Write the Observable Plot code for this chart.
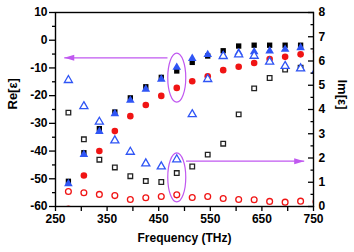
<!DOCTYPE html>
<html>
<head>
<meta charset="utf-8">
<script src="https://cdn.jsdelivr.net/npm/d3@7"></script>
<script src="https://cdn.jsdelivr.net/npm/@observablehq/plot@0.6"></script>
<style>
  html, body { margin: 0; padding: 0; background: white; }
</style>
</head>
<body>
<div id="chart"></div>
<script>
// ---- data ----
const freq        = [275, 305, 335, 365, 395, 425, 455, 485, 515, 545, 575, 605, 635, 665, 695, 725, 755];
// Re[eps] (left axis), filled markers
const reSquare    = [-50.9, -40.6, -31.9, -25.9, -20.8, -16.8, -13.4, -11.1, -8.0, -5.7, -3.8, -2.1, -1.8, -1.8, -1.8, -1.8, null];
const reTriangle  = [-51.8, -41.2, -32.9, -26.5, -21.7, -17.7, -14.1, -9.8, -6.6, -5.2, -5.5, -4.5, -4.2, -3.9, -3.3, -2.7, null];
const reCircle    = [-60.8, -48.8, -40.0, -32.8, -27.4, -23.4, -20.1, -17.2, -14.8, -13.0, -10.8, -9.6, -8.2, -6.8, -6.0, -5.1, -4.2];
// Im[eps] (right axis), hollow markers
const imSquare    = [3.87, 2.77, 1.93, 1.61, 1.25, 1.05, 1.01, 1.38, 1.65, 2.14, 2.59, 3.80, 4.87, 5.30, 5.65, 5.72, null];
const imTriangle  = [5.21, 4.13, 3.49, 2.72, 2.25, 1.77, 1.65, 1.94, 3.80, 5.25, 6.20, 6.27, 6.21, 5.97, 5.79, 5.69, 5.60];
const imCircle    = [0.62, 0.57, 0.50, 0.45, 0.29, 0.36, 0.41, 0.48, 0.37, 0.41, 0.33, 0.29, 0.28, 0.21, 0.18, 0.22, 0.20];

// axis ticks
const xTicks      = [250, 350, 450, 550, 650, 750];
const xMinorTicks = [300, 400, 500, 600, 700];
const reTicks     = [-60, -50, -40, -30, -20, -10, 0, 10];
const reMinor     = [-55, -45, -35, -25, -15, -5, 5];
const imTicks     = [0, 1, 2, 3, 4, 5, 6, 7, 8];
const imMinor     = [0.5, 1.5, 2.5, 3.5, 4.5, 5.5, 6.5, 7.5];

// annotations (data units)
const ellipseX    = [485, 485];
const ellipseRe   = [-13.5, -49.5];
const arrowLeft   = {x1: 467, x2: 267, re: -6.35};   // points to Re axis
const arrowRight  = {x1: 503, x2: 732, im: 1.87};    // points to Im axis

// ---- mapping of the Im axis [0,8] onto the Re axis [-60,10] ----
const reMin = -60, reMax = 10, imMax = 8;
const imToRe = v => (v == null ? null : reMin + v * (reMax - reMin) / imMax);
const reToIm = r => (r - reMin) * imMax / (reMax - reMin);

const rows = freq.map((f, i) => ({
  f,
  reSq: reSquare[i], reTri: reTriangle[i], reCirc: reCircle[i],
  imSq: imToRe(imSquare[i]), imTri: imToRe(imTriangle[i]), imCirc: imToRe(imCircle[i])
}));

const BLUE = "#2f55f5", RED = "#f01414", VIOLET = "#c058f0";

// custom symbols
const ellipseSymbol = {
  draw(ctx) {
    const rx = 9, ry = 24.5, k = 0.5523;
    ctx.moveTo(rx, 0);
    ctx.bezierCurveTo(rx, ry * k, rx * k, ry, 0, ry);
    ctx.bezierCurveTo(-rx * k, ry, -rx, ry * k, -rx, 0);
    ctx.bezierCurveTo(-rx, -ry * k, -rx * k, -ry, 0, -ry);
    ctx.bezierCurveTo(rx * k, -ry, rx, -ry * k, rx, 0);
    ctx.closePath();
  }
};
const headLeft = {draw(ctx) { ctx.moveTo(0, 0); ctx.lineTo(10, -3); ctx.lineTo(10, 3); ctx.closePath(); }};
const headRight = {draw(ctx) { ctx.moveTo(0, 0); ctx.lineTo(-10, -3); ctx.lineTo(-10, 3); ctx.closePath(); }};

const chart = Plot.plot({
  width: 354,
  height: 252,
  marginLeft: 55,
  marginRight: 41,
  marginTop: 12,
  marginBottom: 46,
  x: {domain: [250, 750], label: null},
  y: {domain: [reMin, reMax], label: null},
  style: {
    fontFamily: "'Liberation Sans', Arial, sans-serif",
    fontWeight: "bold",
    fontSize: "12px",
    background: "white",
    color: "black",
    overflow: "visible"
  },
  marks: [
    // annotations behind the points
    Plot.link([arrowLeft], {x1: "x1", x2: "x2", y1: "re", y2: "re", stroke: VIOLET, strokeWidth: 1.3}),
    Plot.dot([arrowLeft], {x: "x2", y: "re", symbol: headLeft, fill: VIOLET, stroke: "none"}),
    Plot.link([arrowRight], {x1: "x1", x2: "x2", y1: d => imToRe(d.im), y2: d => imToRe(d.im), stroke: VIOLET, strokeWidth: 1.3}),
    Plot.dot([arrowRight], {x: "x2", y: d => imToRe(d.im), symbol: headRight, fill: VIOLET, stroke: "none"}),
    Plot.dot(ellipseX, {x: d => d, y: (d, i) => ellipseRe[i], symbol: ellipseSymbol, fill: "none", stroke: VIOLET, strokeWidth: 1.2}),

    // Re[eps] filled markers
    Plot.dot(rows, {x: "f", y: "reCirc", r: 3.3, fill: RED, stroke: "none", clip: true}),
    Plot.dot(rows, {x: "f", y: "reSq", symbol: "square", r: 3.0, fill: "black", stroke: "none", clip: true}),
    Plot.dot(rows, {x: "f", y: "reTri", symbol: "triangle", r: 3.2, fill: BLUE, stroke: "none", clip: true}),
    // Im[eps] hollow markers
    Plot.dot(rows, {x: "f", y: "imSq", symbol: "square", r: 2.6, fill: "white", stroke: "#222", strokeWidth: 1.3, clip: true}),
    Plot.dot(rows, {x: "f", y: "imTri", symbol: "triangle", r: 3.0, fill: "white", stroke: BLUE, strokeWidth: 1.3, clip: true}),
    Plot.dot(rows, {x: "f", y: "imCirc", r: 2.9, fill: "white", stroke: RED, strokeWidth: 1.3, clip: true}),

    // axes
    Plot.axisY(reTicks, {anchor: "left", tickSize: 6, tickPadding: 2, strokeWidth: 1.3, tickFormat: d => String(d), label: null}),
    Plot.axisY(reMinor, {anchor: "left", tickSize: 3, strokeWidth: 1.3, tickFormat: () => "", label: null}),
    Plot.axisX(xTicks, {anchor: "bottom", tickSize: 5, tickPadding: 3, strokeWidth: 1.3, tickFormat: d => String(d), label: null}),
    Plot.axisX(xMinorTicks, {anchor: "bottom", tickSize: 5, strokeWidth: 1.3, tickFormat: () => "", label: null}),
    Plot.axisY(imTicks.map(imToRe), {anchor: "right", tickSize: 6, dx: -6, strokeWidth: 1.3, tickFormat: () => "", label: null}),
    Plot.axisY(imMinor.map(imToRe), {anchor: "right", tickSize: 3.5, dx: -3.5, strokeWidth: 1.3, tickFormat: () => "", label: null}),
    Plot.axisY(imTicks.map(imToRe), {anchor: "right", tickSize: 0, tickPadding: 5, tickFormat: d => String(Math.round(reToIm(d))), label: null}),
    Plot.frame({stroke: "black", strokeWidth: 1.4}),

    // axis titles
    Plot.text(["Re[ε]"], {text: d => d, frameAnchor: "left", dx: -43, rotate: -90, fontSize: 13, fontWeight: "bold", fill: "black"}),
    Plot.text(["Im[ε]"], {text: d => d, frameAnchor: "right", dx: 29, rotate: 90, fontSize: 13, fontWeight: "bold", fill: "black"}),
    Plot.text(["Frequency (THz)"], {text: d => d, frameAnchor: "bottom", dy: 35, fontSize: 12, fontWeight: "bold", fill: "black"})
  ]
});
document.getElementById("chart").appendChild(chart);
</script>
</body>
</html>
